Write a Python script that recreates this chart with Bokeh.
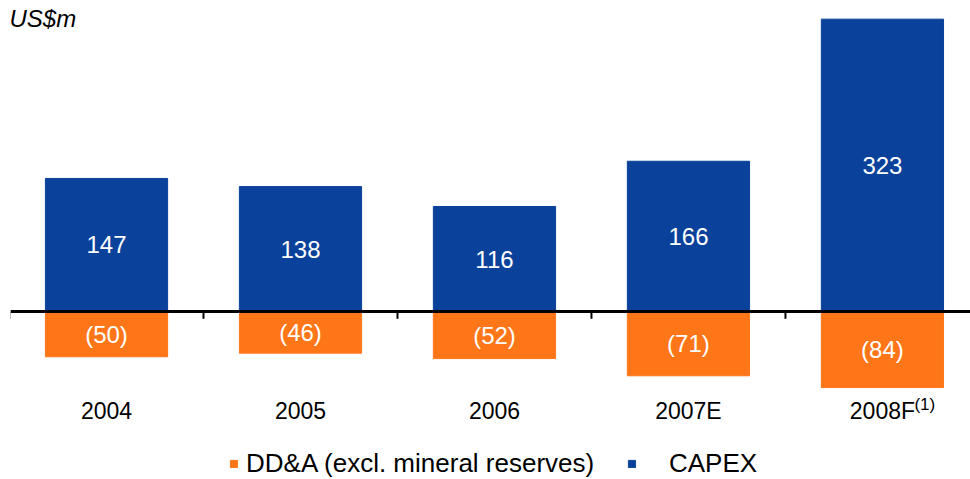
from bokeh.plotting import figure
from bokeh.models import ColumnDataSource, Range1d, Span, Label, Legend, LegendItem
from bokeh.core.properties import value
from bokeh.embed import file_html
from bokeh.resources import INLINE

# ---- data ----
years = ["2004", "2005", "2006", "2007E", "2008F"]
capex = [147, 138, 116, 166, 323]
dda = [-50, -46, -52, -71, -84]
footnote = "(1)"
unit_label = "US$m"
legend_dda = "DD&A (excl. mineral reserves)"
legend_capex = "CAPEX"

BLUE = "#0A419B"
ORANGE = "#FF7619"
FONT = "Liberation Sans"

xs = list(range(len(years)))
src = ColumnDataSource(dict(
    x=xs,
    capex=capex,
    dda=dda,
    capex_mid=[v / 2 for v in capex],
    dda_mid=[v / 2 for v in dda],
    capex_txt=[str(v) for v in capex],
    dda_txt=["(%d)" % abs(v) for v in dda],
    year=years,
    zero=[0] * len(years),
))

W, H = 970, 479
p = figure(width=W, height=H, output_backend="svg", toolbar_location=None,
           x_range=Range1d(-0.495, 4.454), y_range=Range1d(-185.6, 343.6),
           min_border_left=10, min_border_right=0, min_border_top=0, min_border_bottom=0)
p.axis.visible = False
p.grid.visible = False
p.outline_line_color = None

r_dda = p.vbar(x="x", top="dda", bottom=0, width=0.63, color=ORANGE, source=src)
r_cap = p.vbar(x="x", top="capex", bottom=0, width=0.63, color=BLUE, source=src)

# baseline and tick marks at category boundaries
p.add_layout(Span(location=0, dimension="width", line_color="black", line_width=3))
bounds = [i - 0.5 for i in xs]
p.segment(x0=bounds, x1=bounds, y0=[0] * len(bounds), y1=[-8] * len(bounds),
          line_color="black", line_width=2)

# value labels
p.text(x="x", y="capex_mid", text="capex_txt", source=src, text_align="center",
       text_baseline="middle", text_color="white", text_font=value(FONT),
       text_font_size="24px")
p.text(x="x", y="dda_mid", text="dda_txt", source=src, text_align="center",
       text_baseline="middle", text_color="white", text_font=value(FONT),
       text_font_size="24px")

# category labels
p.text(x="x", y="zero", text="year", source=src, text_align="center",
       text_baseline="middle", text_color="black", text_font=value(FONT),
       text_font_size="23px", y_offset=99)
p.text(x=[xs[-1]], y=[0], text=[footnote], text_align="left",
       text_baseline="middle", text_color="black", text_font=value(FONT),
       text_font_size="17px", x_offset=32, y_offset=93)

# unit label
p.add_layout(Label(x=-1, y=H - 4, x_units="screen", y_units="screen", text=unit_label,
                   text_font=FONT, text_font_style="italic", text_font_size="24px",
                   text_color="black", text_baseline="top", text_align="left"))

# legend
leg1 = Legend(items=[LegendItem(label=legend_dda, renderers=[r_dda])],
              location=(219, 0), orientation="horizontal", label_standoff=8)
leg2 = Legend(items=[LegendItem(label=legend_capex, renderers=[r_cap])],
              location=(617, 0), orientation="horizontal", label_standoff=33)
for lg in (leg1, leg2):
    lg.glyph_width = 9
    lg.glyph_height = 9
    lg.padding = 0
    lg.margin = 0
    lg.border_line_alpha = 0
    lg.background_fill_alpha = 0
    lg.label_text_font = FONT
    lg.label_text_font_size = "26px"
    lg.label_text_color = "black"
    p.add_layout(lg, "center")

open("out.html", "w").write(file_html(p, INLINE))
